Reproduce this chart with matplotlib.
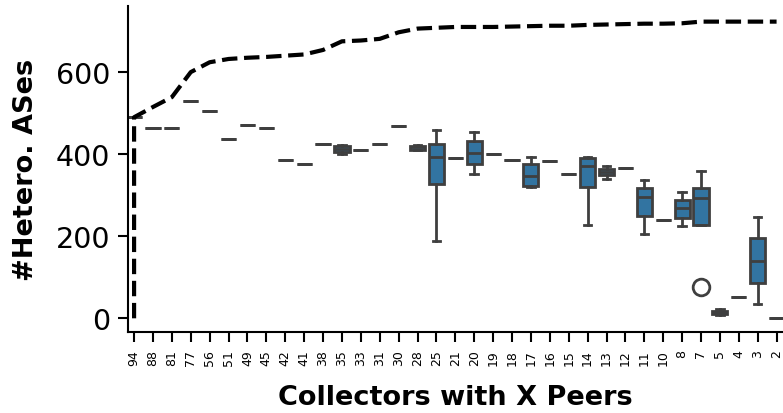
import numpy as np
import matplotlib
matplotlib.use("Agg")
import matplotlib.pyplot as plt

# collectors with X peers (x categories)
peers = ['94', '88', '81', '77', '56', '51', '49', '45', '42', '41', '38', '35',
         '33', '31', '30', '28', '25', '21', '20', '19', '18', '17', '16', '15',
         '14', '13', '12', '11', '10', '8', '7', '5', '4', '3', '2']

# box stats
q1 = [490, 463, 464, 530, 506, 436, 471, 465, 386, 375, 424, 405,
      409, 426, 468, 411, 327, 391, 375, 401, 385, 322, 383, 352,
      319, 350, 367, 249, 240, 245, 228, 11, 53, 86, 1]
med = [490, 463, 464, 530, 506, 436, 471, 465, 386, 375, 424, 413,
       409, 426, 468, 417, 394, 391, 403, 401, 385, 347, 383, 352,
       372, 357, 367, 295, 240, 268, 294, 15, 53, 140, 1]
q3 = [490, 463, 464, 530, 506, 436, 471, 465, 386, 375, 424, 420,
      409, 426, 468, 421, 425, 391, 431, 401, 385, 375, 383, 352,
      391, 364, 367, 317, 240, 289, 317, 19, 53, 195, 1]
whis_lo = [490, 463, 464, 530, 506, 436, 471, 465, 386, 375, 424, 401,
           409, 426, 468, 409, 189, 391, 351, 401, 385, 320, 383, 352,
           228, 340, 367, 205, 240, 224, 228, 7, 53, 35, 1]
whis_hi = [490, 463, 464, 530, 506, 436, 471, 465, 386, 375, 424, 422,
           409, 426, 468, 423, 458, 391, 455, 401, 385, 393, 383, 352,
           394, 372, 367, 338, 240, 309, 358, 22, 53, 247, 1]
outliers = {'7': [76]}

# cumulative number of hetero ASes (starts from 0 at the first collector)
cum_x = [0] + list(range(len(peers)))
cum_y = [0, 490, 515, 539, 600, 624, 632, 635, 637, 640, 643, 654, 675, 677,
         681, 697, 706, 708, 710, 710, 710, 711, 712, 713, 713, 715, 716, 717,
         718, 718, 719, 723, 723, 723, 723, 723]

stats = []
for i, p in enumerate(peers):
    stats.append(dict(q1=q1[i], med=med[i], q3=q3[i], whislo=whis_lo[i],
                      whishi=whis_hi[i], fliers=outliers.get(p, [])))

gray = '#3f3f3f'
fig = plt.figure(figsize=(7.83, 4.14), dpi=100)
ax = fig.add_axes([0.164, 0.195, 0.836, 0.789])

ax.bxp(stats, positions=np.arange(len(peers)), widths=0.8, patch_artist=True,
       capwidths=0.4, manage_ticks=False,
       boxprops=dict(facecolor='#3274a1', edgecolor=gray, linewidth=2),
       medianprops=dict(color=gray, linewidth=2),
       whiskerprops=dict(color=gray, linewidth=2),
       capprops=dict(color=gray, linewidth=2),
       flierprops=dict(marker='o', markersize=12, markerfacecolor='none',
                       markeredgecolor=gray, markeredgewidth=2))

ax.plot(cum_x, cum_y, 'k--', linewidth=3, zorder=5)

ax.set_xlim(-0.3, 34.34)
ax.set_ylim(-34, 762)
ax.set_xticks(np.arange(len(peers)))
ax.set_xticklabels(peers, rotation=90, fontsize=9)
ax.set_yticks([0, 200, 400, 600])
ax.tick_params(axis='y', labelsize=20.5, length=7, width=1.5, pad=6)
ax.tick_params(axis='x', length=7, width=1.5, pad=5)
ax.spines['top'].set_visible(False)
ax.spines['right'].set_visible(False)
ax.spines['left'].set_linewidth(1.5)
ax.spines['bottom'].set_linewidth(1.5)
ax.set_xlabel('Collectors with X Peers', fontsize=19.5, fontweight='bold',
              labelpad=14)
ax.set_ylabel('#Hetero. ASes', fontsize=19.5, fontweight='bold', labelpad=12)

fig.savefig('out.png', dpi=100)
